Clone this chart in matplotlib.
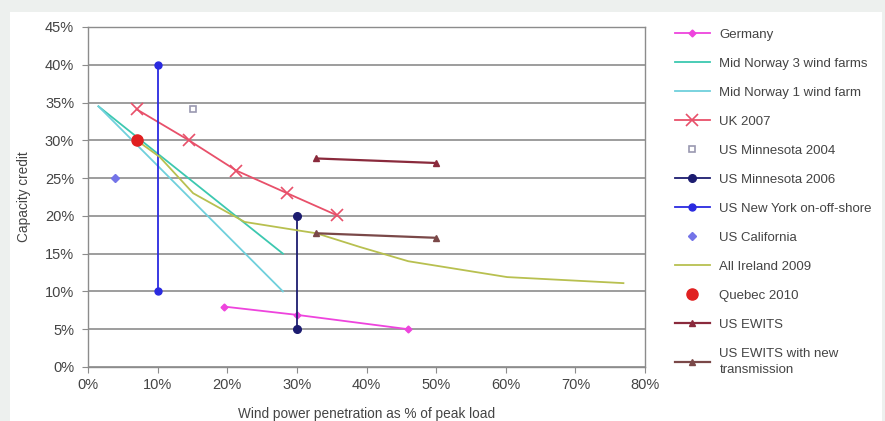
import matplotlib.pyplot as plt
from matplotlib.patches import Rectangle
from matplotlib.ticker import PercentFormatter

plt.rcParams['font.family'] = ['Liberation Sans', 'DejaVu Sans']

# data (percent values)
germany_x = [19.5, 30, 46]
germany_y = [8, 6.9, 5]
norway3_x = [1.5, 28]
norway3_y = [34.5, 15]
norway1_x = [1.5, 28]
norway1_y = [34.5, 10]
uk_x = [7, 14.5, 21.3, 28.6, 35.7]
uk_y = [34.1, 30, 26, 23, 20.1]
minn2004_x = [15.1]
minn2004_y = [34.1]
minn2006_x = [30, 30]
minn2006_y = [20, 5]
ny_x = [10, 10]
ny_y = [40, 10]
calif_x = [3.9]
calif_y = [25]
ireland_x = [7, 10.3, 15.1, 22.5, 30, 32.8, 39, 46, 60.2, 76.9]
ireland_y = [30, 27.8, 23, 19.2, 18.1, 17.7, 15.9, 14, 11.9, 11.1]
quebec_x = [7]
quebec_y = [30]
ewits_x = [32.8, 50]
ewits_y = [27.6, 27]
ewits_tr_x = [32.8, 50]
ewits_tr_y = [17.7, 17.1]

fig = plt.figure(figsize=(8.85, 4.21), dpi=100)
fig.patch.set_facecolor('#edf0ee')
fig.patches.append(Rectangle((10 / 885, 0), 872 / 885, 1 - 12 / 421,
                             transform=fig.transFigure, facecolor='white',
                             edgecolor='none', zorder=-10))

ax = fig.add_axes([88 / 885, 1 - 367 / 421, (645 - 88) / 885, (367 - 27) / 421])
ax.set_facecolor('white')

ax.plot(germany_x, germany_y, color='#ee44dd', lw=1.3, marker='D', ms=3.5, label='Germany')
ax.plot(norway3_x, norway3_y, color='#3cc8b0', lw=1.3, label='Mid Norway 3 wind farms')
ax.plot(norway1_x, norway1_y, color='#6fd0dc', lw=1.3, label='Mid Norway 1 wind farm')
ax.plot(uk_x, uk_y, color='#e8506a', lw=1.3, marker='x', ms=8, mew=1.2, label='UK 2007')
ax.plot(minn2004_x, minn2004_y, ls='none', marker='s', ms=5, mfc='white',
        mec='#9a98b0', mew=1.2, label='US Minnesota 2004')
ax.plot(minn2006_x, minn2006_y, color='#1c1c70', lw=1.3, marker='o', ms=5.5, label='US Minnesota 2006')
ax.plot(ny_x, ny_y, color='#2a2ae0', lw=1.3, marker='o', ms=5, label='US New York on-off-shore')
ax.plot(calif_x, calif_y, ls='none', marker='D', ms=4.5, color='#7474e8', label='US California')
ax.plot(ireland_x, ireland_y, color='#b8c050', lw=1.3, label='All Ireland 2009')
ax.plot(quebec_x, quebec_y, ls='none', marker='o', ms=8, color='#e02020', label='Quebec 2010')
ax.plot(ewits_x, ewits_y, color='#8a2a3c', lw=1.6, marker='^', ms=5, label='US EWITS')
ax.plot(ewits_tr_x, ewits_tr_y, color='#7a4848', lw=1.6, marker='^', ms=5,
        label='US EWITS with new\ntransmission')

ax.set_xlim(0, 80)
ax.set_ylim(0, 45)
ax.set_xticks(range(0, 81, 10))
ax.set_yticks(range(0, 46, 5))
ax.xaxis.set_major_formatter(PercentFormatter(decimals=0))
ax.yaxis.set_major_formatter(PercentFormatter(decimals=0))
ax.grid(axis='y', color='#8c8c8c', lw=1.2)
ax.set_axisbelow(True)
for s in ax.spines.values():
    s.set_color('#8c8c8c')
    s.set_linewidth(1.0)
ax.tick_params(colors='#8c8c8c', labelcolor='#444444', labelsize=10.5, length=4,
               direction='out', pad=6)
ax.tick_params(axis='x', pad=4)

ax.set_xlabel('Wind power penetration as % of peak load', fontsize=9.8, color='#444444', labelpad=11)
ax.set_ylabel('Capacity credit', fontsize=9.8, color='#444444', labelpad=10)

leg = fig.legend(loc='upper left', bbox_to_anchor=(668 / 885, 1 - 22 / 421), frameon=False,
                 fontsize=9.5, labelcolor='#444444', handlelength=2.7, labelspacing=1.27,
                 borderpad=0, handletextpad=0.7)
leg.get_texts()[-1].set_linespacing(1.5)

fig.savefig('out.png', dpi=100, facecolor=fig.get_facecolor())
